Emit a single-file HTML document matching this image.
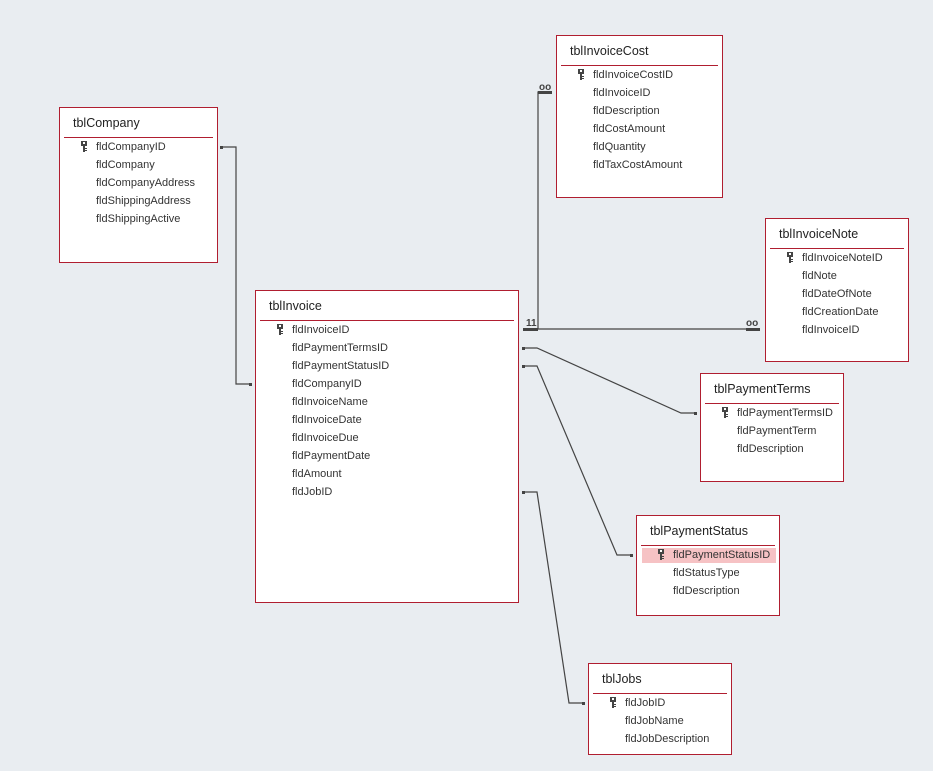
<!DOCTYPE html>
<html><head><meta charset="utf-8"><style>
html,body{margin:0;padding:0;width:933px;height:771px;background:#e9edf1;overflow:hidden;position:relative;font-family:"Liberation Sans",sans-serif;color:#333}
.b{position:absolute;background:#fff;border:1px solid #b01e30;box-sizing:border-box}
.t{position:absolute;left:13px;top:8px;font-size:12.5px;color:#222}
.hr{position:absolute;left:4px;right:4px;top:29px;height:1px;background:#b01e30}
.f{position:absolute;font-size:11px;color:#333;white-space:nowrap;line-height:14px}
.k{position:absolute;width:6px;height:11px}
.hl{position:absolute;background:#f6c2c4}
svg{position:absolute;left:0;top:0}
</style></head><body>
<svg width="933" height="771">
<g stroke="#444" stroke-width="1.2" fill="none">
<polyline points="221,147 236,147 236,384 251,384"/>
<polyline points="523,329 760,329"/>
<polyline points="538,329 538,92 552,92"/>
<polyline points="523,348 537,348 681,413 696,413"/>
<polyline points="523,366 537,366 617,555 632,555"/>
<polyline points="523,492 537,492 569,703 584,703"/>
</g>
<g fill="#444">
<rect x="220" y="146" width="3" height="3"/><rect x="249" y="383" width="3" height="3"/>
<rect x="522" y="347" width="3" height="3"/><rect x="694" y="412" width="3" height="3"/>
<rect x="522" y="365" width="3" height="3"/><rect x="630" y="554" width="3" height="3"/>
<rect x="522" y="491" width="3" height="3"/><rect x="582" y="702" width="3" height="3"/>
<rect x="523" y="328" width="15" height="3"/>
<rect x="746" y="328" width="14" height="3"/>
<rect x="538" y="91" width="14" height="3"/>
</g>
<g font-family="Liberation Sans,sans-serif" font-size="10" font-weight="bold" fill="#444">
<text x="526" y="326">11</text>
<text x="539" y="90">oo</text>
<text x="746" y="326">oo</text>
</g>
</svg>
<svg width="0" height="0" style="position:absolute"><defs><symbol id="key" viewBox="0 0 6 11"><rect x="0" y="0" width="6" height="5" fill="#444"/><rect x="2" y="1" width="2" height="2" fill="#fff"/><rect x="2" y="5" width="2" height="6" fill="#444"/><rect x="4" y="7" width="2" height="1" fill="#444"/><rect x="4" y="9" width="2" height="1" fill="#444"/></symbol></defs></svg>

<div class="b" style="left:59px;top:107px;width:159px;height:156px"><div class="t">tblCompany</div><div class="hr"></div>
<svg class="k" style="left:21px;top:33px"><use href="#key"/></svg>
<div class="f" style="left:36px;top:32px">fldCompanyID</div>
<div class="f" style="left:36px;top:50px">fldCompany</div>
<div class="f" style="left:36px;top:68px">fldCompanyAddress</div>
<div class="f" style="left:36px;top:86px">fldShippingAddress</div>
<div class="f" style="left:36px;top:104px">fldShippingActive</div></div>

<div class="b" style="left:255px;top:290px;width:264px;height:313px"><div class="t">tblInvoice</div><div class="hr"></div>
<svg class="k" style="left:21px;top:33px"><use href="#key"/></svg>
<div class="f" style="left:36px;top:32px">fldInvoiceID</div>
<div class="f" style="left:36px;top:50px">fldPaymentTermsID</div>
<div class="f" style="left:36px;top:68px">fldPaymentStatusID</div>
<div class="f" style="left:36px;top:86px">fldCompanyID</div>
<div class="f" style="left:36px;top:104px">fldInvoiceName</div>
<div class="f" style="left:36px;top:122px">fldInvoiceDate</div>
<div class="f" style="left:36px;top:140px">fldInvoiceDue</div>
<div class="f" style="left:36px;top:158px">fldPaymentDate</div>
<div class="f" style="left:36px;top:176px">fldAmount</div>
<div class="f" style="left:36px;top:194px">fldJobID</div></div>

<div class="b" style="left:556px;top:35px;width:167px;height:163px"><div class="t">tblInvoiceCost</div><div class="hr"></div>
<svg class="k" style="left:21px;top:33px"><use href="#key"/></svg>
<div class="f" style="left:36px;top:32px">fldInvoiceCostID</div>
<div class="f" style="left:36px;top:50px">fldInvoiceID</div>
<div class="f" style="left:36px;top:68px">fldDescription</div>
<div class="f" style="left:36px;top:86px">fldCostAmount</div>
<div class="f" style="left:36px;top:104px">fldQuantity</div>
<div class="f" style="left:36px;top:122px">fldTaxCostAmount</div></div>

<div class="b" style="left:765px;top:218px;width:144px;height:144px"><div class="t">tblInvoiceNote</div><div class="hr"></div>
<svg class="k" style="left:21px;top:33px"><use href="#key"/></svg>
<div class="f" style="left:36px;top:32px">fldInvoiceNoteID</div>
<div class="f" style="left:36px;top:50px">fldNote</div>
<div class="f" style="left:36px;top:68px">fldDateOfNote</div>
<div class="f" style="left:36px;top:86px">fldCreationDate</div>
<div class="f" style="left:36px;top:104px">fldInvoiceID</div></div>

<div class="b" style="left:700px;top:373px;width:144px;height:109px"><div class="t">tblPaymentTerms</div><div class="hr"></div>
<svg class="k" style="left:21px;top:33px"><use href="#key"/></svg>
<div class="f" style="left:36px;top:32px">fldPaymentTermsID</div>
<div class="f" style="left:36px;top:50px">fldPaymentTerm</div>
<div class="f" style="left:36px;top:68px">fldDescription</div></div>

<div class="b" style="left:636px;top:515px;width:144px;height:101px"><div class="t">tblPaymentStatus</div><div class="hr"></div>
<div class="hl" style="left:5px;top:32px;width:134px;height:15px"></div>
<svg class="k" style="left:21px;top:33px"><use href="#key"/></svg>
<div class="f" style="left:36px;top:32px">fldPaymentStatusID</div>
<div class="f" style="left:36px;top:50px">fldStatusType</div>
<div class="f" style="left:36px;top:68px">fldDescription</div></div>

<div class="b" style="left:588px;top:663px;width:144px;height:92px"><div class="t">tblJobs</div><div class="hr"></div>
<svg class="k" style="left:21px;top:33px"><use href="#key"/></svg>
<div class="f" style="left:36px;top:32px">fldJobID</div>
<div class="f" style="left:36px;top:50px">fldJobName</div>
<div class="f" style="left:36px;top:68px">fldJobDescription</div></div>
</body></html>
